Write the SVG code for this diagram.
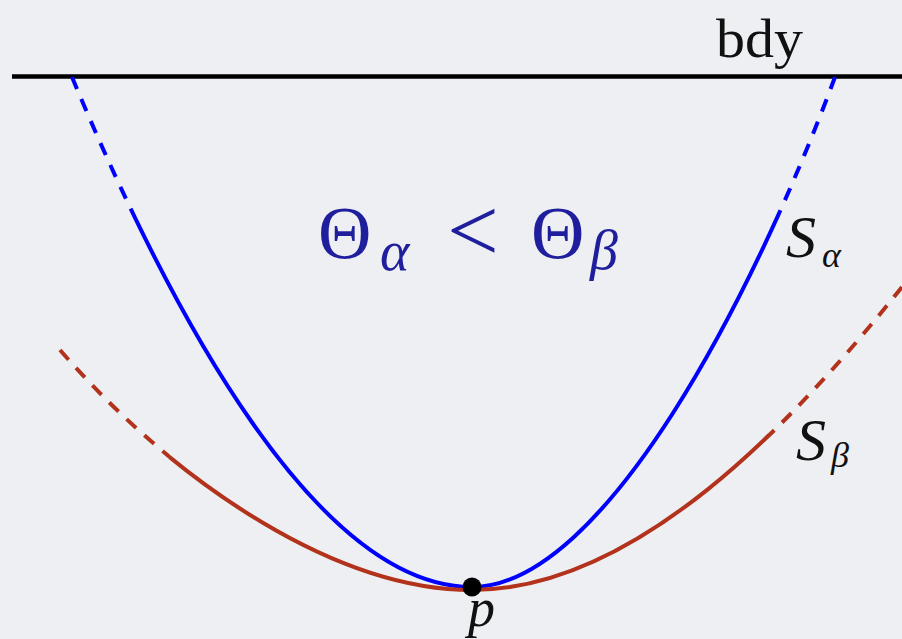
<svg xmlns="http://www.w3.org/2000/svg" width="902" height="639" viewBox="0 0 902 639">
  <style>
    .curve { fill: none; stroke-width: 4; stroke-linecap: butt; }
    .blue { stroke: #0000ff; }
    .red { stroke: #b2321c; }
    .dash { stroke-dasharray: 13 11; }
  </style>
  <defs>
    <clipPath id="blueTop"><rect x="0" y="0" width="902" height="216"/></clipPath>
    <clipPath id="blueBottom"><rect x="0" y="216" width="902" height="423"/></clipPath>
    <clipPath id="redSides"><rect x="0" y="0" width="169" height="639"/><rect x="768" y="0" width="134" height="639"/></clipPath>
    <clipPath id="redMiddle"><rect x="169" y="0" width="599" height="639"/></clipPath>
  </defs>
  <rect x="0" y="0" width="902" height="639" fill="#eeeff3"/>

  <g id="boundary">
    <line x1="12" y1="76.5" x2="902" y2="76.5" stroke="#000" stroke-width="4.5"/>
    <text x="716" y="57" font-family="'Liberation Serif', serif" font-size="54" textLength="87" lengthAdjust="spacingAndGlyphs" fill="#111">bdy</text>
  </g>

  <g id="connectors">
    <g id="S_alpha_curve">
      <g clip-path="url(#blueTop)">
        <path class="curve blue dash" d="M72,77 C172,317 318,587 472,587"/>
        <path class="curve blue dash" d="M835,77 C755,293 604,587 472,587"/>
      </g>
      <g clip-path="url(#blueBottom)">
        <path class="curve blue" d="M72,77 C172,317 318,587 472,587 C604,587 755,293 835,77"/>
      </g>
    </g>
    <g id="S_beta_curve">
      <g clip-path="url(#redSides)">
        <path class="curve red dash" d="M60,350 C180,488 339,590 472,590"/>
        <path class="curve red dash" d="M902,287 C792,424.5 635,590 472,590"/>
      </g>
      <g clip-path="url(#redMiddle)">
        <path class="curve red" d="M60,350 C180,488 339,590 472,590 C635,590 792,424.5 902,287"/>
      </g>
    </g>
  </g>

  <g id="p">
    <circle cx="472" cy="587" r="9.5" fill="#000"/>
    <text x="468" y="626" font-family="'Liberation Serif', serif" font-style="italic" font-size="54" fill="#111">p</text>
  </g>

  <g id="inequality" fill="#1f1f9e" font-family="'Liberation Serif', serif">
    <text x="318" y="258" font-size="74">Θ</text>
    <text x="380" y="270" font-size="56" font-style="italic">α</text>
    <text x="447" y="261" font-size="92">&lt;</text>
    <text x="531" y="258" font-size="74">Θ</text>
    <text x="590" y="269" font-size="56" font-style="italic">β</text>
  </g>

  <g id="S_alpha_label" fill="#111" font-family="'Liberation Serif', serif" font-style="italic">
    <text x="786" y="257" font-size="60">S</text>
    <text x="822" y="267" font-size="36">α</text>
  </g>

  <g id="S_beta_label" fill="#111" font-family="'Liberation Serif', serif" font-style="italic">
    <text x="796" y="460" font-size="60">S</text>
    <text x="831" y="467" font-size="36">β</text>
  </g>
</svg>
